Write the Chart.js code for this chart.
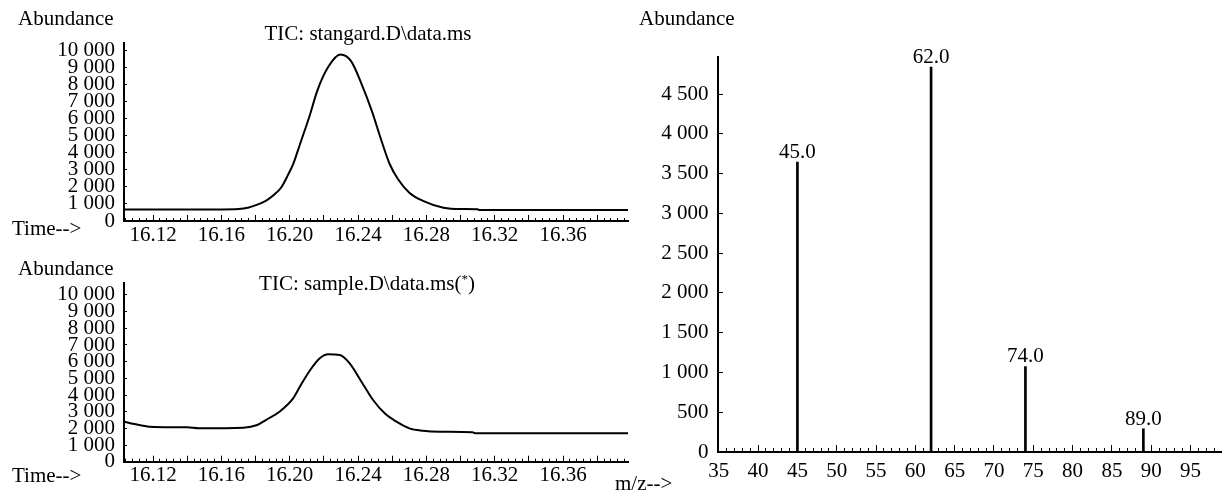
<!DOCTYPE html>
<html>
<head>
<meta charset="utf-8">
<script src="https://cdn.jsdelivr.net/npm/chart.js@4.4.0/dist/chart.umd.min.js"></script>
<style>
    body { margin: 0; background: #fff; width: 1222px; height: 495px; overflow: hidden; position: relative;
           font-family: "Liberation Serif", "Times New Roman", serif; color: #000; }
    canvas { position: absolute; }
    .t { position: absolute; font-size: 21px; line-height: 21px; white-space: nowrap; }
    .t sup { font-size: 13px; vertical-align: 7px; line-height: 0; }
</style>
</head>
<body>
<canvas id="stdChart" width="640" height="245" style="left:0;top:0"></canvas>
<canvas id="smpChart" width="640" height="250" style="left:0;top:245px"></canvas>
<canvas id="msChart" width="582" height="495" style="left:640px;top:0"></canvas>

<div class="t" style="left:18px;top:8px">Abundance</div>
<div class="t" style="left:368px;top:23px;transform:translateX(-50%)">TIC: stangard.D\data.ms</div>
<div class="t" style="left:12px;top:218px">Time--&gt;</div>
<div class="t" style="left:18px;top:258px">Abundance</div>
<div class="t" style="left:367px;top:273px;transform:translateX(-50%)">TIC: sample.D\data.ms(<sup>*</sup>)</div>
<div class="t" style="left:12px;top:465px">Time--&gt;</div>
<div class="t" style="left:615px;top:473px">m/z--&gt;</div>
<div class="t" style="left:639px;top:8px">Abundance</div>

<script>
// chromatogram of the standard
const stdTime = [16.103, 16.120, 16.140, 16.160, 16.170, 16.176, 16.181, 16.186, 16.191, 16.195,
                 16.199, 16.202, 16.206, 16.212, 16.216, 16.2225, 16.2297, 16.236, 16.242, 16.248,
                 16.2537, 16.2585, 16.2634, 16.270, 16.278, 16.290, 16.300, 16.310, 16.311, 16.398];
const stdAbund = [680, 680, 680, 680, 700, 790, 960, 1180, 1550, 1960,
                  2700, 3330, 4500, 6270, 7600, 9020, 9750, 9350, 8040, 6470,
                  4700, 3340, 2450, 1660, 1180, 780, 700, 690, 640, 640];

// chromatogram of the sample
const smpTime = [16.103, 16.109, 16.118, 16.140, 16.147, 16.173, 16.181, 16.186, 16.194, 16.202,
                 16.2065, 16.212, 16.2176, 16.2225, 16.2293, 16.2351, 16.242, 16.2488, 16.2556, 16.2625,
                 16.270, 16.278, 16.288, 16.307, 16.309, 16.398];
const smpAbund = [2400, 2260, 2100, 2060, 2000, 2040, 2200, 2500, 3000, 3800,
                  4600, 5500, 6200, 6440, 6400, 5900, 4800, 3700, 2900, 2400,
                  2000, 1860, 1800, 1760, 1700, 1700];

const timeTicks = [16.12, 16.16, 16.20, 16.24, 16.28, 16.32, 16.36];
const chromAbundTicks = [0, 1000, 2000, 3000, 4000, 5000, 6000, 7000, 8000, 9000, 10000];

// mass spectrum
const mzValues = [45, 62, 74, 89];
const mzAbund = [3645, 4840, 1075, 292];
const mzLabels = ['45.0', '62.0', '74.0', '89.0'];
const mzTicks = [35, 40, 45, 50, 55, 60, 65, 70, 75, 80, 85, 90, 95];
const specAbundTicks = [0, 500, 1000, 1500, 2000, 2500, 3000, 3500, 4000, 4500];

Chart.defaults.font.family = '"Liberation Serif", "Times New Roman", serif';
Chart.defaults.font.size = 21;
Chart.defaults.font.lineHeight = 1;
Chart.defaults.color = '#000';

function fmt(v) {
    return String(v).replace(/\B(?=(\d{3})+(?!\d))/g, ' ');
}

function stepTicks(min, max, step) {
    const out = [];
    for (let k = Math.ceil(min / step - 1e-6); k * step <= max + 1e-9; k++) {
        out.push(Math.round(k * step * 10000) / 10000);
    }
    return out;
}

function chromChart(id, times, values, yMax, pad, xH, labelPad) {
    const tMin = 16.103, tMax = 16.398;
    return new Chart(document.getElementById(id), {
        type: 'line',
        data: {
            datasets: [{
                data: times.map((t, i) => ({ x: t, y: values[i] })),
                borderColor: '#000',
                borderWidth: 2,
                pointRadius: 0,
                cubicInterpolationMode: 'monotone',
                fill: false
            }]
        },
        options: {
            responsive: false,
            animation: false,
            devicePixelRatio: 1,
            layout: { padding: pad },
            plugins: { legend: { display: false }, tooltip: { enabled: false } },
            scales: {
                x: {
                    type: 'linear', position: 'bottom', min: tMin, max: tMax, weight: 1,
                    afterBuildTicks: s => { s.ticks = stepTicks(tMin, tMax, 0.02).map(v => ({ value: v })); },
                    afterFit: s => { s.height = xH; },
                    ticks: {
                        padding: labelPad, autoSkip: false, maxRotation: 0,
                        callback: v => timeTicks.some(t => Math.abs(t - v) < 1e-6) ? v.toFixed(2) : ''
                    },
                    grid: { drawOnChartArea: false, tickLength: -6, color: '#000', lineWidth: 1 },
                    border: { color: '#000', width: 2 }
                },
                xMinor: {
                    type: 'linear', position: 'bottom', min: tMin, max: tMax, weight: 0,
                    afterBuildTicks: s => { s.ticks = stepTicks(tMin, tMax, 0.004).map(v => ({ value: v })); },
                    afterFit: s => { s.height = 0; },
                    ticks: { display: false },
                    grid: { drawOnChartArea: false, tickLength: -3, color: '#000', lineWidth: 1 },
                    border: { display: false }
                },
                y: {
                    min: 0, max: yMax,
                    afterBuildTicks: s => { s.ticks = chromAbundTicks.map(v => ({ value: v })); },
                    afterFit: s => { s.width = 124; },
                    ticks: { padding: 12, autoSkip: false, callback: v => fmt(v) },
                    grid: { drawOnChartArea: false, tickLength: -3, color: '#000', lineWidth: 1 },
                    border: { color: '#000', width: 2 }
                }
            }
        }
    });
}

chromChart('stdChart', stdTime, stdAbund, 10430, { left: 0, top: 43, right: 12, bottom: 0 }, 24, 9.5);
chromChart('smpChart', smpTime, smpAbund, 10700, { left: 0, top: 38.3, right: 12, bottom: 0 }, 33.3, 8.8);

const peakLabels = {
    id: 'peakLabels',
    afterDatasetsDraw(chart) {
        const meta = chart.getDatasetMeta(0);
        const ctx = chart.ctx;
        ctx.save();
        ctx.font = '21px "Liberation Serif", "Times New Roman", serif';
        ctx.fillStyle = '#000';
        ctx.textAlign = 'center';
        ctx.textBaseline = 'alphabetic';
        meta.data.forEach((bar, i) => {
            ctx.fillText(mzLabels[i], bar.x, bar.y - 4);
        });
        ctx.restore();
    }
};

new Chart(document.getElementById('msChart'), {
    type: 'bar',
    data: {
        datasets: [{
            data: mzValues.map((m, i) => ({ x: m, y: mzAbund[i] })),
            backgroundColor: '#000',
            borderWidth: 0,
            barThickness: 2
        }]
    },
    options: {
        responsive: false,
        animation: false,
        devicePixelRatio: 1,
        layout: { padding: { left: 0, top: 56.7, right: 0, bottom: 0 } },
        plugins: { legend: { display: false }, tooltip: { enabled: false } },
        scales: {
            x: {
                type: 'linear', position: 'bottom', min: 34.9, max: 99, offset: false, weight: 1,
                afterBuildTicks: s => { s.ticks = mzTicks.map(v => ({ value: v })); },
                afterFit: s => { s.height = 43; },
                ticks: { padding: 16.2, autoSkip: false, maxRotation: 0 },
                grid: { drawOnChartArea: false, offset: false, tickLength: -7, color: '#000', lineWidth: 1 },
                border: { color: '#000', width: 2 }
            },
            xMinor: {
                type: 'linear', position: 'bottom', min: 34.9, max: 99, offset: false, weight: 0,
                afterBuildTicks: s => { s.ticks = stepTicks(35, 99, 1).map(v => ({ value: v })); },
                afterFit: s => { s.height = 0; },
                ticks: { display: false },
                grid: { drawOnChartArea: false, offset: false, tickLength: -4, color: '#000', lineWidth: 1 },
                border: { display: false }
            },
            y: {
                min: 0, max: 4970,
                afterBuildTicks: s => { s.ticks = specAbundTicks.map(v => ({ value: v })); },
                afterFit: s => { s.width = 78; },
                ticks: { padding: 14.4, autoSkip: false, callback: v => fmt(v) },
                grid: { drawOnChartArea: false, tickLength: -5, color: '#000', lineWidth: 1 },
                border: { color: '#000', width: 2 }
            }
        }
    },
    plugins: [peakLabels]
});
</script>
</body>
</html>
